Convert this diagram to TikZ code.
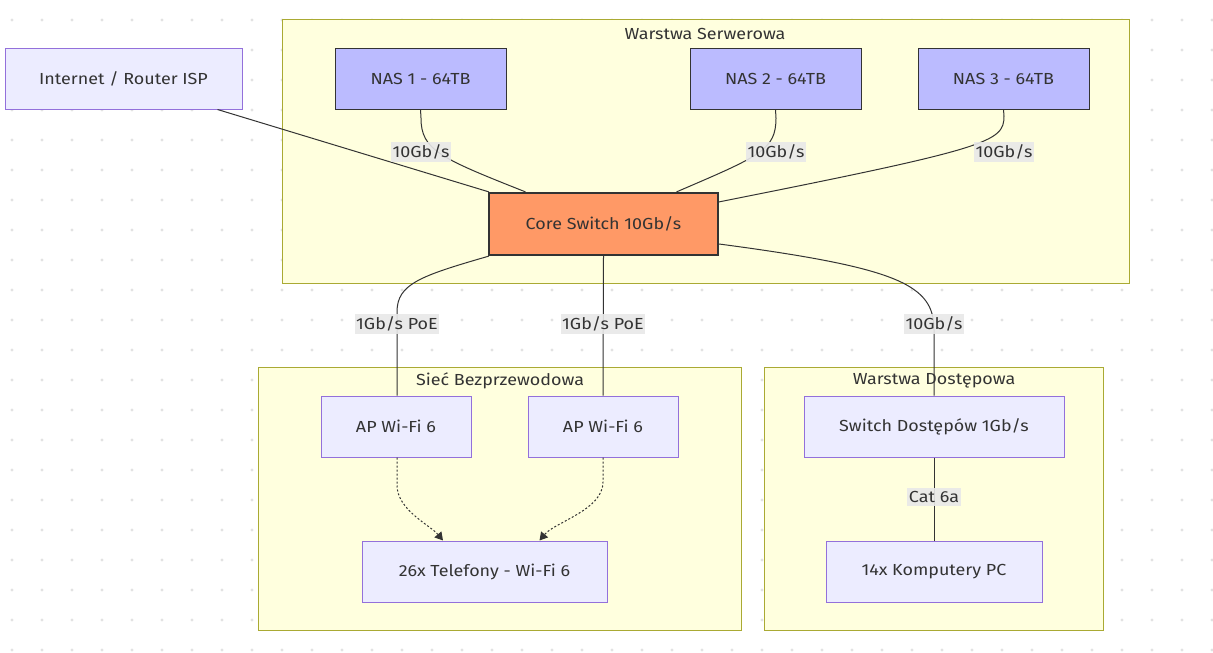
\documentclass[tikz,border=0pt]{standalone}
\usepackage{fontspec}
\setmainfont{Fira Sans}[FakeStretch=1.12]
\usetikzlibrary{arrows.meta}
\definecolor{nfill}{HTML}{ECECFF}
\definecolor{nstroke}{HTML}{9370DB}
\definecolor{nasfill}{HTML}{BBBBFF}
\definecolor{corefill}{HTML}{FF9966}
\definecolor{dk}{HTML}{333333}
\definecolor{cfill}{HTML}{FFFFDE}
\definecolor{cstroke}{HTML}{AAAA33}
\definecolor{lblfill}{HTML}{E8E8E8}
\definecolor{dotc}{HTML}{E2E2E2}
\begin{document}
\begin{tikzpicture}[x=1pt,y=-1pt,
  txt/.style={font=\fontsize{16}{19}\selectfont, text=dk},
  box/.style={txt, draw=nstroke, fill=nfill, line width=1pt, inner sep=0pt, minimum height=61pt},
  nasbox/.style={txt, draw=dk, fill=nasfill, line width=1pt, inner sep=0pt, minimum width=171pt, minimum height=61pt},
  corebox/.style={txt, draw=dk, fill=corefill, line width=2.2pt, inner sep=0pt, minimum width=229pt, minimum height=62pt},
  cluster/.style={draw=cstroke, fill=cfill, line width=1pt},
  ctitle/.style={txt, inner sep=0pt},
  lbl/.style={txt, fill=lblfill, fill opacity=0.9, text opacity=1, inner xsep=1.5pt, inner ysep=3pt},
  edge/.style={draw=dk, line width=1pt},
  dedge/.style={draw=dk, line width=1pt, dash pattern=on 2pt off 2pt, -{Triangle[length=8pt,width=9pt]}}
]
\useasboundingbox (0,0) rectangle (1213,653);
\fill[white] (0,0) rectangle (1213,653);
\foreach \i in {0,...,40}{\foreach \j in {0,...,21}{\fill[dotc] (12+30*\i,20+30*\j) circle (1.7);}}

% clusters
\draw[cluster] (282,19) rectangle (1129,283);
\draw[cluster] (258,367) rectangle (741,630);
\draw[cluster] (764,367) rectangle (1103,630);

% nodes
\node[box, minimum width=237pt] (inet) at (123.5,78.5) {Internet / Router ISP};
\node[nasbox] (nas1) at (420.5,78.5) {NAS 1 - 64TB};
\node[nasbox] (nas2) at (775.5,78.5) {NAS 2 - 64TB};
\node[nasbox] (nas3) at (1003.5,78.5) {NAS 3 - 64TB};
\node[corebox] (core) at (603.5,224) {Core Switch 10Gb/s};
\node[box, minimum width=150pt] (ap1) at (396,426.5) {AP Wi-Fi 6};
\node[box, minimum width=150pt] (ap2) at (603,426.5) {AP Wi-Fi 6};
\node[box, minimum width=245pt] (tel) at (484.5,571.5) {26x Telefony - Wi-Fi 6};
\node[box, minimum width=260pt] (swd) at (934,426.5) {Switch Dostępów 1Gb/s};
\node[box, minimum width=216pt] (pc) at (934,571.5) {14x Komputery PC};

% edges
\draw[edge] ([xshift=-25pt]inet.south east) -- ([xshift=1pt]core.north west);
\draw[edge] (nas1.south) -- (421,118) .. controls (421,150) and (440,158) .. ([xshift=-78pt]core.north);
\draw[edge] (nas2.south) -- (776,118) .. controls (776,150) and (760,156) .. ([xshift=73pt]core.north);
\draw[edge] (nas3.south) -- (1004,116) .. controls (1004,142) and (990,148) .. ([yshift=-10pt]core.north east);
\draw[edge] ([xshift=1pt]core.south west) .. controls (420,276) and (397,284) .. (397,312) -- (ap1.north -| 397,0);
\draw[edge] (core.south) -- (ap2.north);
\draw[edge] ([yshift=-20pt]core.east) .. controls (900,268) and (934,285) .. (934,330) -- (swd.north);
\draw[edge] (swd.south) -- (pc.north);
\draw[dedge] (ap1.south -| 397,0) -- (397,485) .. controls (397,510) and (430,525) .. ([xshift=-41.5pt]tel.north);
\draw[dedge] (ap2.south) -- (603,482) .. controls (603,510) and (555,522) .. ([xshift=55pt]tel.north);

% titles
\node[ctitle] (t1) at (705,34) {Warstwa Serwerowa};
\node[ctitle] (t2) at (500,381) {Sieć Bezprzewodowa};
\node[ctitle] (t3) at (934,381) {Warstwa Dostępowa};

% labels
\node[lbl] (l1) at (421,152) {10Gb/s};
\node[lbl] (l2) at (776,152) {10Gb/s};
\node[lbl] (l3) at (1004,152) {10Gb/s};
\node[lbl] (l4) at (397,324) {1Gb/s PoE};
\node[lbl] (l5) at (603,324) {1Gb/s PoE};
\node[lbl] (l6) at (934,324) {10Gb/s};
\node[lbl] (l7) at (934,497) {Cat 6a};
\end{tikzpicture}
\end{document}
